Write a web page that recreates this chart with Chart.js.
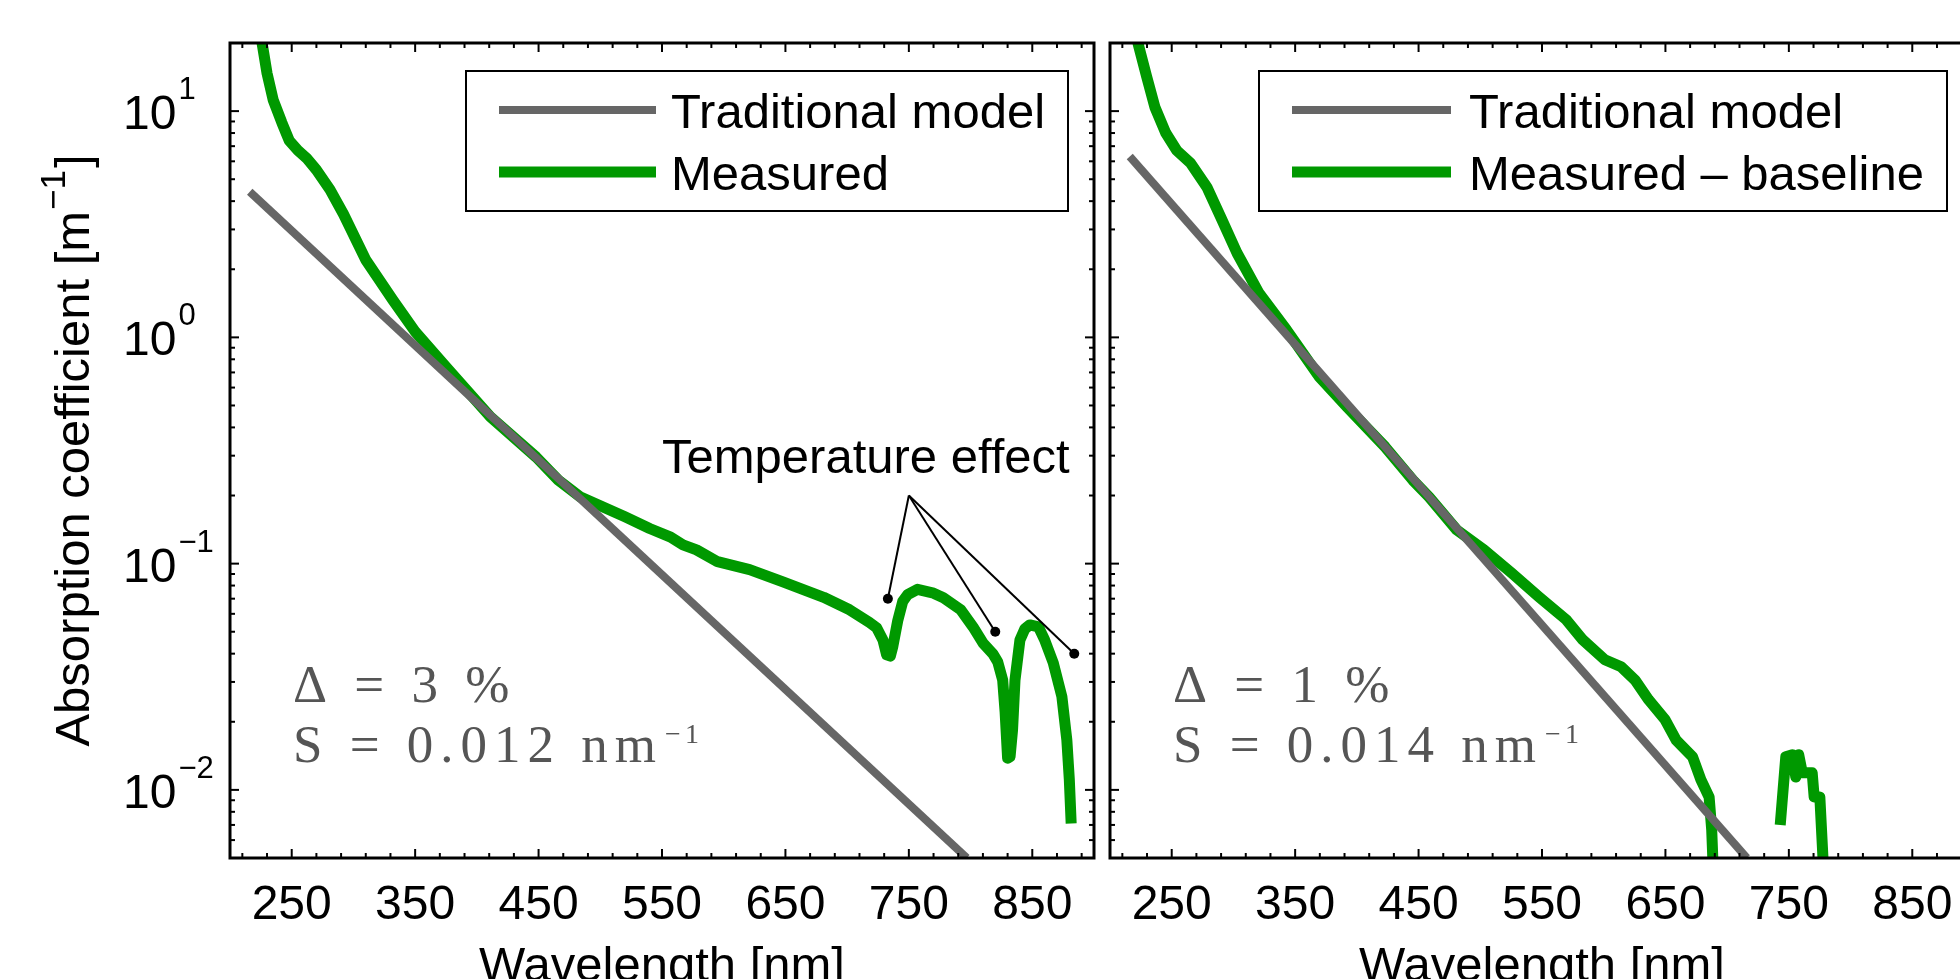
<!DOCTYPE html>
<html>
<head>
<meta charset="utf-8">
<script src="https://cdn.jsdelivr.net/npm/chart.js@4.4.1/dist/chart.umd.min.js"></script>
<style>
html,body{margin:0;padding:0;background:#fff;overflow:hidden;width:1960px;height:979px;}
#wrap{position:relative;width:1960px;height:979px;overflow:hidden;background:#fff;}
canvas{position:absolute;top:0;}
#cL{left:0;}
#cR{left:1100px;}
</style>
</head>
<body>
<div id="wrap">
<canvas id="cL" width="1100" height="979"></canvas>
<canvas id="cR" width="900" height="979"></canvas>
</div>
<script>
// ---------------- DATA ----------------
const xTickValues = [250, 350, 450, 550, 650, 750, 850];
const xTickLabels = ['250', '350', '450', '550', '650', '750', '850'];
const xMinorTickValues = [210, 230, 270, 290, 310, 330, 370, 390, 410, 430, 470, 490, 510, 530,
  570, 590, 610, 630, 670, 690, 710, 730, 770, 790, 810, 830, 870, 890];
const yTickValues = [0.01, 0.1, 1, 10];
const yTickExponents = ['\u22122', '\u22121', '0', '1'];
const yMinorTickValues = [0.005, 0.006, 0.007, 0.008, 0.009,
  0.02, 0.03, 0.04, 0.05, 0.06, 0.07, 0.08, 0.09,
  0.2, 0.3, 0.4, 0.5, 0.6, 0.7, 0.8, 0.9,
  2, 3, 4, 5, 6, 7, 8, 9, 20];

const xAxisTitle = 'Wavelength [nm]';
const yAxisTitleMain = 'Absorption coefficient [m';
const yAxisTitleSup = '\u22121';
const yAxisTitleEnd = ']';

const seriesLabelsLeft = ['Traditional model', 'Measured'];
const seriesLabelsRight = ['Traditional model', 'Measured \u2013 baseline'];

// Left panel: traditional model (straight on log axis: two end points)
const leftModelNm = [216, 797];
const leftModelAbs = [4.4, 0.005];
// Left panel: measured
const leftMeasuredNm = [225, 226, 230, 235, 242, 248, 255, 262, 270, 281, 292, 310, 332, 350, 375, 411, 448,
  466, 484, 520, 540, 557, 567, 578, 595, 621, 648, 681, 702, 718, 724, 729, 732, 735, 737, 741, 745,
  749, 757, 770, 778, 792, 802, 810, 818, 822, 826, 828, 830, 832, 834, 836, 840, 844, 848, 855, 860,
  867, 874, 878, 880, 881.5];
const leftMeasuredAbs = [22, 20, 14.7, 11.2, 8.9, 7.4, 6.7, 6.2, 5.5, 4.5, 3.5, 2.2, 1.46, 1.06, 0.74, 0.445, 0.296,
  0.234, 0.197, 0.161, 0.143, 0.131, 0.121, 0.115, 0.102, 0.094, 0.083, 0.071, 0.0625, 0.055, 0.052, 0.046, 0.0395, 0.039, 0.043, 0.056, 0.068,
  0.073, 0.077, 0.074, 0.0706, 0.0625, 0.0525, 0.0446, 0.040, 0.0368, 0.0306, 0.022, 0.0138, 0.0140, 0.0184, 0.0306, 0.046, 0.0515, 0.0536, 0.0525, 0.046,
  0.0364, 0.0258, 0.0166, 0.0111, 0.0071];

// Right panel: traditional model
const rightModelNm = [216, 716];
const rightModelAbs = [6.3, 0.005];
// Right panel: measured - baseline (null = not positive, gap on log axis)
const rightMeasuredNm = [222, 223, 229.7, 236.4, 245.2, 254.1, 265.2, 278.6, 289.7, 302.9, 320.7, 343, 369.7,
  391.9, 422.9, 445.3, 458.5, 480.9, 503.1, 525.3, 547.5, 569.8, 583.1, 600.9, 614.1, 625.3, 636.4,
  649.8, 658.7, 672, 678.7, 685.4, 687.5, 688.5, 715, 743, 747.5, 752.9, 755.6, 758, 760.9, 768.9,
  770.5, 775.1, 777.8];
const rightMeasuredAbs = [21, 19.6, 14.2, 10.4, 8.0, 6.7, 5.9, 4.6, 3.4, 2.36, 1.57, 1.08, 0.668,
  0.493, 0.328, 0.234, 0.197, 0.141, 0.115, 0.091, 0.0713, 0.0564, 0.046, 0.0376, 0.035, 0.0306, 0.025,
  0.0204, 0.0166, 0.014, 0.0111, 0.0093, 0.00665, 0.0048, null, 0.0070, 0.0140, 0.0143, 0.0114, 0.0143, 0.0119, 0.0119,
  0.0093, 0.0093, 0.0048];

// Annotation "Temperature effect"
const annotationText = 'Temperature effect';
const annotationVertexNm = 750;
const annotationVertexAbs = 0.2;
const annotationTargetNm = [733, 820, 884];
const annotationTargetAbs = [0.07, 0.05, 0.04];

// Fit statistics text
const leftStats = { delta: '3', slope: '0.012' };
const rightStats = { delta: '1', slope: '0.014' };

// ---------------- STYLE ----------------
const GRAY = '#666666';
const GREEN = '#009900';
const SANS = '"Liberation Sans", Arial, Helvetica, sans-serif';
const SERIF = '"Liberation Serif", "Times New Roman", serif';
const F = (px) => px + 'px ' + SANS;

function pairs(xs, ys) { return xs.map((x, i) => ({ x: x, y: ys[i] })); }

function lineDs(label, xs, ys, color, width, order) {
  return {
    label: label, data: pairs(xs, ys), showLine: true,
    borderColor: color, backgroundColor: color, borderWidth: width,
    pointRadius: 0, pointHoverRadius: 0, borderCapStyle: 'butt', borderJoinStyle: 'round',
    spanGaps: false, clip: 0, order: order, tension: 0
  };
}

function annotationDatasets() {
  return annotationTargetNm.map((nm, i) => ({
    label: '', isAnnotation: true,
    data: [{ x: annotationVertexNm, y: annotationVertexAbs }, { x: nm, y: annotationTargetAbs[i] }],
    showLine: true, borderColor: '#000', backgroundColor: '#000', borderWidth: 2,
    pointRadius: [0, 5], pointBackgroundColor: '#000', pointBorderWidth: 0,
    clip: false, order: 0, tension: 0
  }));
}

function makeDecor(o) {
  return {
    id: 'panelDecor',
    afterDraw(chart) {
      const ctx = chart.ctx, ca = chart.chartArea;
      const xs = chart.scales.x, ys = chart.scales.y;
      const seg = (x1, y1, x2, y2) => { ctx.beginPath(); ctx.moveTo(x1, y1); ctx.lineTo(x2, y2); ctx.stroke(); };
      ctx.save();
      ctx.strokeStyle = '#000';
      ctx.lineCap = 'butt';
      ctx.lineWidth = 2;
      // inward ticks on all four sides
      xMinorTickValues.forEach(v => { const p = xs.getPixelForValue(v); seg(p, ca.bottom, p, ca.bottom - 5); seg(p, ca.top, p, ca.top + 5); });
      xTickValues.forEach(v => { const p = xs.getPixelForValue(v); seg(p, ca.bottom, p, ca.bottom - 9); seg(p, ca.top, p, ca.top + 9); });
      yMinorTickValues.forEach(v => { const p = ys.getPixelForValue(v); seg(ca.left, p, ca.left + 5, p); seg(ca.right, p, ca.right - 5, p); });
      yTickValues.forEach(v => { const p = ys.getPixelForValue(v); seg(ca.left, p, ca.left + 9, p); seg(ca.right, p, ca.right - 9, p); });
      // axes box
      ctx.lineWidth = 3;
      ctx.strokeRect(ca.left, ca.top, ca.right - ca.left, ca.bottom - ca.top);

      ctx.fillStyle = '#000';
      ctx.textBaseline = 'alphabetic';
      // x tick labels
      ctx.font = F(48);
      ctx.textAlign = 'center';
      xTickValues.forEach((v, i) => ctx.fillText(xTickLabels[i], xs.getPixelForValue(v), ca.bottom + 61));
      // x title
      ctx.font = F(49);
      ctx.fillText(xAxisTitle, (ca.left + ca.right) / 2, ca.bottom + 123);

      if (o.yLabels) {
        ctx.textAlign = 'left';
        yTickValues.forEach((v, i) => {
          const p = ys.getPixelForValue(v);
          ctx.font = F(48);
          ctx.fillText('10', 123, p + 18);
          const w = ctx.measureText('10').width;
          ctx.font = F(31);
          ctx.fillText(yTickExponents[i], 123 + w + 2, p - 12);
        });
        // y title (rotated, with superscript)
        ctx.save();
        ctx.translate(89, (ca.top + ca.bottom) / 2);
        ctx.rotate(-Math.PI / 2);
        ctx.font = F(49); const w1 = ctx.measureText(yAxisTitleMain).width;
        ctx.font = F(35); const w2 = ctx.measureText(yAxisTitleSup).width;
        ctx.font = F(49); const w3 = ctx.measureText(yAxisTitleEnd).width;
        const x0 = -(w1 + w2 + w3 + 3) / 2;
        ctx.textAlign = 'left';
        ctx.font = F(49); ctx.fillText(yAxisTitleMain, x0, 0);
        ctx.font = F(35); ctx.fillText(yAxisTitleSup, x0 + w1 + 1, -24);
        ctx.font = F(49); ctx.fillText(yAxisTitleEnd, x0 + w1 + w2 + 3, 0);
        ctx.restore();
      }

      // legend box
      const L = o.legend;
      ctx.fillStyle = '#fff';
      ctx.fillRect(L.l, L.t, L.r - L.l, L.b - L.t);
      ctx.lineWidth = 2;
      ctx.strokeStyle = '#000';
      ctx.strokeRect(L.l, L.t, L.r - L.l, L.b - L.t);
      const series = chart.data.datasets.filter(d => !d.isAnnotation);
      series.forEach((d, i) => {
        const y = L.rows[i];
        ctx.strokeStyle = d.borderColor;
        ctx.lineWidth = d.borderWidth;
        seg(L.lineX1, y, L.lineX2, y);
        ctx.fillStyle = '#000';
        ctx.font = F(49);
        ctx.textAlign = 'left';
        ctx.fillText(d.label, L.textX, y + 17.5);
      });

      // fit statistics
      const st = o.stats;
      const sx = ca.left + 63;
      ctx.fillStyle = '#555555';
      ctx.textAlign = 'left';
      ctx.font = '53px ' + SERIF;
      ctx.letterSpacing = '7px';
      ctx.fillText('\u0394 = ' + st.delta + ' %', sx, 702);
      const line2 = 'S = ' + st.slope + ' nm';
      ctx.fillText(line2, sx, 762);
      const wl2 = ctx.measureText(line2).width;
      ctx.font = '28px ' + SERIF;
      ctx.letterSpacing = '4px';
      ctx.fillText('\u22121', sx + wl2 + 2, 743);
      ctx.letterSpacing = '0px';

      // annotation text
      if (o.annotation) {
        ctx.fillStyle = '#000';
        ctx.font = F(49);
        ctx.textAlign = 'left';
        ctx.fillText(annotationText, 662, 473);
      }
      ctx.restore();
    }
  };
}

function makePanel(id, datasets, o) {
  return new Chart(document.getElementById(id), {
    type: 'scatter',
    data: { datasets: datasets },
    options: {
      responsive: false, maintainAspectRatio: false, animation: false, devicePixelRatio: 1, events: [],
      layout: { padding: o.padding },
      scales: {
        x: { type: 'linear', min: 200, max: 900, display: false },
        y: { type: 'logarithmic', min: 0.005, max: 20, display: false }
      },
      plugins: { legend: { display: false }, tooltip: { enabled: false } }
    },
    plugins: [makeDecor(o)]
  });
}

makePanel('cL', [
  lineDs(seriesLabelsLeft[0], leftModelNm, leftModelAbs, GRAY, 8, 1),
  lineDs(seriesLabelsLeft[1], leftMeasuredNm, leftMeasuredAbs, GREEN, 11, 2)
].concat(annotationDatasets()), {
  padding: { left: 230, right: 6, top: 43, bottom: 121 },
  yLabels: true,
  annotation: true,
  stats: leftStats,
  legend: { l: 466, t: 71, r: 1068, b: 211, rows: [110, 172], lineX1: 499, lineX2: 656, textX: 671 }
});

makePanel('cR', [
  lineDs(seriesLabelsRight[0], rightModelNm, rightModelAbs, GRAY, 8, 1),
  lineDs(seriesLabelsRight[1], rightMeasuredNm, rightMeasuredAbs, GREEN, 11, 2)
], {
  padding: { left: 10, right: 26, top: 43, bottom: 121 },
  yLabels: false,
  annotation: false,
  stats: rightStats,
  legend: { l: 159, t: 71, r: 847, b: 211, rows: [110, 172], lineX1: 192, lineX2: 351, textX: 369 }
});
</script>
</body>
</html>
